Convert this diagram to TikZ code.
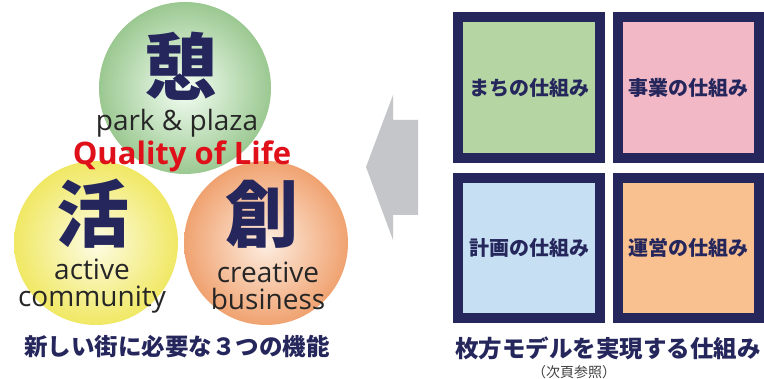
\documentclass[tikz,border=0pt]{standalone}
\usepackage{fontspec}
\setmainfont{Open Sans}
\newfontfamily\jp{Noto Sans CJK JP}
\newfontfamily\lat{Open Sans}
\begin{document}
\begin{tikzpicture}[x=1pt,y=-1pt,
  kanji/.style={font=\jp\bfseries\fontsize{73}{73}\selectfont, text=navy, inner sep=0},
  eng/.style={font=\lat\fontsize{28}{27}\selectfont, text=black!85, inner sep=0, align=center},
  jplabel/.style={font=\jp\bfseries\fontsize{23.5}{23.5}\selectfont, text=navy, inner sep=0},
  boxtext/.style={font=\jp\bfseries\fontsize{20}{20}\selectfont, text=navy, inner sep=0},
  frame/.style={draw=navy, line width=10pt}]
\definecolor{navy}{HTML}{25265C}
\definecolor{qred}{HTML}{E0101A}
\definecolor{bgreen}{HTML}{B5D5A3}
\definecolor{bpink}{HTML}{F2B8C6}
\definecolor{bblue}{HTML}{C6DFF2}
\definecolor{borange}{HTML}{F8C18F}
\definecolor{arrowgray}{HTML}{C4C6C9}
\useasboundingbox[fill=white] (0,0) rectangle (764,379);
% spheres
\shade[inner color=green!4!white, outer color={rgb,255:red,155;green,200;blue,145}] (185,88) circle[radius=86];
\shade[inner color={rgb,255:red,253;green,252;blue,228}, outer color={rgb,255:red,240;green,232;blue,100}] (96,243) circle[radius=82];
\shade[inner color={rgb,255:red,253;green,238;blue,225}, outer color={rgb,255:red,240;green,162;blue,112}] (266,243) circle[radius=82];
% texts on spheres
\node[kanji] (k1) at (181,66) {憩};
\node[eng] (e1) at (177,123) {park \& plaza};
\node[font=\lat\bfseries\fontsize{31}{31}\selectfont, text=qred, inner sep=0] (qol) at (182,156) {Quality of Life};
\node[kanji] (k2) at (93,214) {活};
\node[kanji] (k3) at (262,214) {創};
\node[eng] (e2) at (92,286) {active\\community};
\node[eng] (e4) at (268,286) {creative\\business};
\node[jplabel] (lbl1) at (177,347) {新しい街に必要な３つの機能};
% gray arrow
\fill[arrowgray] (366,167) -- (393,95) -- (393,120) -- (418,120) -- (418,215) -- (393,215) -- (393,240) -- cycle;
% boxes
\node[frame, fill=bgreen, minimum width=142pt, minimum height=141pt, inner sep=0] (b1) at (529,87.5) {};
\node[frame, fill=bpink, minimum width=141pt, minimum height=141pt, inner sep=0] (b2) at (688.5,87.5) {};
\node[frame, fill=bblue, minimum width=142pt, minimum height=140pt, inner sep=0] (b3) at (529,248) {};
\node[frame, fill=borange, minimum width=141pt, minimum height=140pt, inner sep=0] (b4) at (688.5,248) {};
\node[boxtext] (t1) at (b1) {まちの仕組み};
\node[boxtext] (t2) at (b2) {事業の仕組み};
\node[boxtext] (t3) at (b3) {計画の仕組み};
\node[boxtext] (t4) at (b4) {運営の仕組み};
\node[jplabel] (lbl2) at (608,348) {枚方モデルを実現する仕組み};
\node[font=\jp\fontsize{14}{14}\selectfont, text=black!75, inner sep=0] (ref) at (574,372) {（次頁参照）};
\end{tikzpicture}
\end{document}
